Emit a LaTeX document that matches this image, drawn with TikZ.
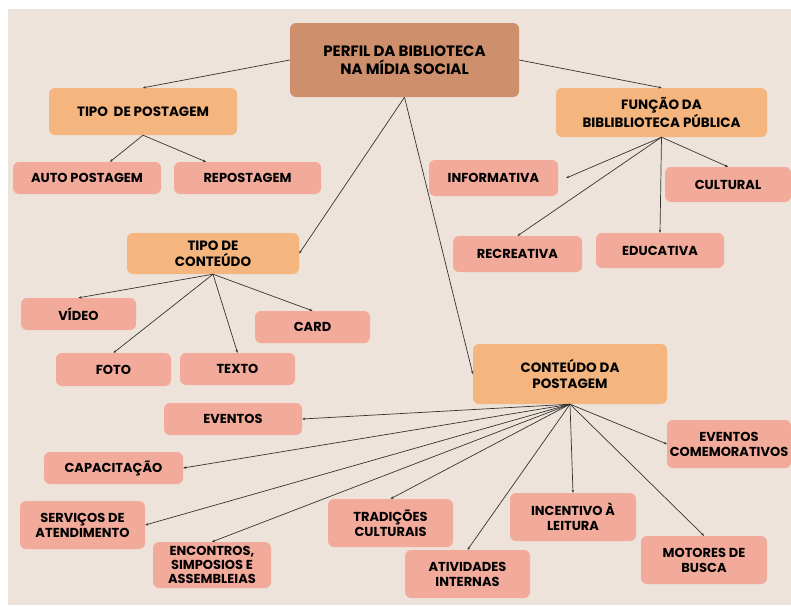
\documentclass[tikz,border=0pt]{standalone}
\usepackage{fontspec}
\setmainfont{Poppins}
\usepackage{tikz}
\usetikzlibrary{arrows.meta}
\definecolor{paper}{HTML}{EDE3DA}
\definecolor{rootfill}{HTML}{CD8F6C}
\definecolor{orangefill}{HTML}{F4B57F}
\definecolor{pinkfill}{HTML}{F2AA9B}
\definecolor{linecol}{HTML}{333333}
\tikzset{
  box/.style={rectangle, rounded corners=6pt, inner sep=0pt, align=center, text=black},
  rootbox/.style={box, fill=rootfill, font=\fontsize{15}{18}\selectfont\bfseries},
  topicbox/.style={box, fill=orangefill, font=\fontsize{13.5}{16}\selectfont\bfseries},
  leafbox/.style={box, fill=pinkfill, font=\fontsize{13}{15}\selectfont\bfseries},
  link/.style={draw=linecol, line width=0.7pt, -{Stealth[length=3pt,width=2.5pt]}}
}
\begin{document}
\begin{tikzpicture}[x=1pt,y=-1pt]
    \useasboundingbox (0,0) rectangle (791,605);
    \fill[white] (0,0) rectangle (791,605);
    \fill[paper] (8,9) rectangle (791,605);
    \node[rootbox, minimum width=229pt, minimum height=74pt] (root) at (404.5,60) {PERFIL DA BIBLIOTECA\\NA MÍDIA SOCIAL};
    \node[topicbox, minimum width=188pt, minimum height=47pt] (tpost) at (143,111.5) {TIPO\ \ DE POSTAGEM};
    \node[topicbox, minimum width=211pt, minimum height=49pt] (funcao) at (661.5,112.5) {FUNÇÃO DA\\BIBLIBLIOTECA PÚBLICA};
    \node[topicbox, minimum width=172pt, minimum height=41pt] (tcont) at (213,253.5) {TIPO DE\\CONTEÚDO};
    \node[topicbox, minimum width=194pt, minimum height=60pt] (cpost) at (570,374) {CONTEÚDO DA\\POSTAGEM};
    \node[leafbox, minimum width=148pt, minimum height=32pt] (auto) at (87,178) {AUTO POSTAGEM};
    \node[leafbox, minimum width=147pt, minimum height=32pt] (repost) at (247.5,178) {REPOSTAGEM};
    \node[leafbox, minimum width=129pt, minimum height=36pt] (inform) at (493.5,178) {INFORMATIVA};
    \node[leafbox, minimum width=126pt, minimum height=35pt] (cultural) at (728,184.5) {CULTURAL};
    \node[leafbox, minimum width=129pt, minimum height=36pt] (recre) at (517.5,254) {RECREATIVA};
    \node[leafbox, minimum width=128pt, minimum height=35pt] (educa) at (660,250.5) {EDUCATIVA};
    \node[leafbox, minimum width=115pt, minimum height=32pt] (video) at (78.5,314) {VÍDEO};
    \node[leafbox, minimum width=115pt, minimum height=32pt] (card) at (312.5,327) {CARD};
    \node[leafbox, minimum width=115pt, minimum height=33pt] (foto) at (113.5,369.5) {FOTO};
    \node[leafbox, minimum width=115pt, minimum height=32pt] (texto) at (237.5,369) {TEXTO};
    \node[leafbox, minimum width=138pt, minimum height=32pt] (eventos) at (233,419) {EVENTOS};
    \node[leafbox, minimum width=139pt, minimum height=32pt] (capac) at (113.5,468) {CAPACITAÇÃO};
    \node[leafbox, minimum width=125pt, minimum height=48pt] (servicos) at (82.5,525) {SERVIÇOS DE\\ATENDIMENTO};
    \node[leafbox, minimum width=118pt, minimum height=46pt, font=\fontsize{13}{14}\selectfont\bfseries] (encontros) at (212,565) {ENCONTROS,\\SIMPOSIOS E\\ASSEMBLEIAS};
    \node[leafbox, minimum width=125pt, minimum height=48pt] (tradicoes) at (390.5,523) {TRADIÇÕES\\CULTURAIS};
    \node[leafbox, minimum width=125pt, minimum height=48pt] (ativid) at (467.5,574) {ATIVIDADES\\INTERNAS};
    \node[leafbox, minimum width=126pt, minimum height=48pt] (incent) at (573,517) {INCENTIVO À\\LEITURA};
    \node[leafbox, minimum width=126pt, minimum height=48pt] (motores) at (704,560) {MOTORES DE\\BUSCA};
    \node[leafbox, minimum width=124pt, minimum height=48pt] (comemor) at (729,444) {EVENTOS\\COMEMORATIVOS};
    \draw[link] (root.west) -- (tpost.north);
    \draw[link] (root.east) -- (funcao.north);
    \draw[link] (root.south) -- (tcont.east);
    \draw[link] (root.south) -- (cpost.west);
    \draw[link] (tpost.south) -- ([xshift=23pt]auto.north);
    \draw[link] (tpost.south) -- ([xshift=-41.5pt]repost.north);
    \draw[link] (funcao.south) -- ([xshift=8pt]inform.east);
    \draw[link] (funcao.south) -- (recre.north);
    \draw[link] (funcao.south) -- (educa.north);
    \draw[link] (funcao.south) -- (cultural.north);
    \draw[link] (tcont.south) -- (video.north);
    \draw[link] (tcont.south) -- (foto.north);
    \draw[link] (tcont.south) -- (texto.north);
    \draw[link] (tcont.south) -- (card.north);
    \draw[link] (cpost.south) -- (eventos.east);
    \draw[link] (cpost.south) -- (capac.east);
    \draw[link] (cpost.south) -- (servicos.east);
    \draw[link] (cpost.south) -- (encontros.north);
    \draw[link] (cpost.south) -- (tradicoes.north);
    \draw[link] (cpost.south) -- (ativid.north);
    \draw[link] (cpost.south) -- (incent.north);
    \draw[link] (cpost.south) -- (motores.north);
    \draw[link] (cpost.south) -- (comemor.west);
\end{tikzpicture}
\end{document}
